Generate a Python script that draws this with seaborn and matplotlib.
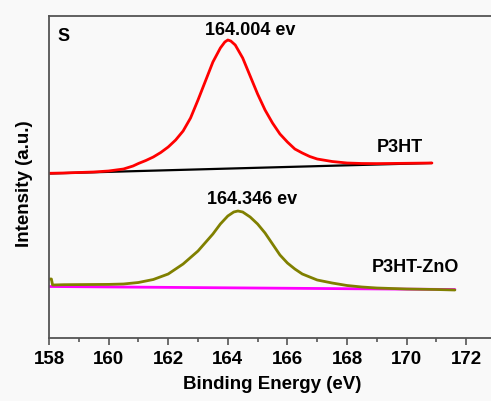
import matplotlib
matplotlib.use("Agg")
import matplotlib.pyplot as plt
import seaborn as sns
import pandas as pd
from matplotlib.ticker import MultipleLocator

# ---- data ----
p3ht_energy = [158.00, 158.50, 159.00, 159.50, 160.00, 160.50, 160.82, 161.00, 161.25,
               161.50, 161.75, 162.00, 162.25, 162.50, 162.75, 163.00, 163.25, 163.50,
               163.75, 163.90, 164.00, 164.10, 164.25, 164.50, 164.75, 165.00, 165.25,
               165.50, 165.75, 166.00, 166.25, 166.50, 166.75, 167.00, 167.50, 168.00,
               168.50, 169.00, 170.00, 170.85]
p3ht_intensity = [164.7, 165.0, 165.5, 166.0, 167.0, 169.0, 172.0, 174.5, 177.5,
                  181.0, 185.5, 191.0, 198.0, 207.0, 220.0, 238.0, 257.0, 276.0,
                  290.0, 296.0, 298.0, 297.0, 293.0, 280.0, 262.0, 244.0, 228.0,
                  215.0, 204.0, 196.0, 189.0, 185.0, 181.5, 179.0, 176.5, 175.0,
                  174.5, 174.4, 174.7, 175.0]
p3ht_bg_energy = [158.00, 170.85]
p3ht_bg_intensity = [164.5, 175.0]

zno_energy = [158.00, 158.08, 158.12, 158.50, 159.00, 159.50, 160.00, 160.50, 161.00,
              161.50, 162.00, 162.50, 163.00, 163.50, 163.75, 164.00, 164.20, 164.34,
              164.50, 164.75, 165.00, 165.25, 165.50, 165.75, 166.00, 166.25, 166.50,
              167.00, 167.50, 168.00, 168.50, 169.00, 170.00, 171.00, 171.62]
zno_intensity = [59.0, 59.0, 53.0, 53.3, 53.4, 53.5, 53.6, 54.0, 55.5,
                 58.5, 64.0, 74.0, 87.0, 104.0, 114.0, 122.0, 126.0, 127.0,
                 126.0, 121.0, 114.0, 105.0, 94.0, 83.0, 75.0, 69.0, 64.0,
                 58.0, 55.0, 52.5, 51.0, 50.0, 49.0, 48.5, 48.0]
zno_bg_energy = [158.00, 171.62]
zno_bg_intensity = [51.5, 48.5]

x_ticks = [158, 160, 162, 164, 166, 168, 170, 172]
peak_labels = ["164.004 ev", "164.346 ev"]
series_names = ["P3HT", "P3HT-ZnO"]

sns.set_theme(style="white")
plt.rcParams['font.family'] = ['Liberation Sans', 'DejaVu Sans']
plt.rcParams['font.weight'] = 'bold'
plt.rcParams['text.color'] = 'black'
plt.rcParams['axes.labelcolor'] = 'black'
plt.rcParams['xtick.color'] = 'black'

bgc = '#f9f9f9'
fig = plt.figure(figsize=(4.91, 4.01), dpi=100, facecolor=bgc)
ax = fig.add_axes([49/491, 63/401, 447/491, 322/401])
ax.set_facecolor(bgc)

def draw(xs, ys, color, lw):
    df = pd.DataFrame({"E": xs, "I": ys})
    sns.lineplot(data=df, x="E", y="I", ax=ax, color=color, linewidth=lw,
                 sort=False, estimator=None)

draw(p3ht_bg_energy, p3ht_bg_intensity, "black", 1.6)
draw(p3ht_energy, p3ht_intensity, "#ff0000", 2.0)
draw(zno_bg_energy, zno_bg_intensity, "#ff00ff", 2.0)
draw(zno_energy, zno_intensity, "#808000", 2.0)
for l in ax.get_lines():
    l.set_solid_joinstyle('round')

ax.set_xlim(158, 173)
ax.set_ylim(0, 322)
ax.set_xticks(x_ticks)
ax.xaxis.set_minor_locator(MultipleLocator(1))
ax.set_yticks([])
ax.tick_params(axis='x', which='major', direction='out', length=5, width=1.2,
               color='#555555', labelcolor='black', labelsize=13.5, pad=4, bottom=True)
ax.tick_params(axis='x', which='minor', direction='out', length=3, width=1.2,
               color='#555555', bottom=True)
for lab in ax.get_xticklabels():
    lab.set_fontweight('bold')
for s in ax.spines.values():
    s.set_color('#555555')
    s.set_linewidth(1.3)

ax.set_xlabel("Binding Energy (eV)", fontsize=13.5, fontweight='bold', labelpad=6, color='black')
ax.set_ylabel("Intensity (a.u.)", fontsize=13.5, fontweight='bold', color='black')
ax.yaxis.set_label_coords(-0.036, 0.48)

fs = 13
kw = dict(fontsize=fs, fontweight='bold', ha='center', va='center', color='black')
ax.text(158.5, 302, "S", **kw)
ax.text(164.75, 308, peak_labels[0], **kw)
ax.text(164.83, 139, peak_labels[1], **kw)
ax.text(169.78, 191, series_names[0], **kw)
ax.text(170.28, 70, series_names[1], **kw)

fig.savefig("out.png", dpi=100, facecolor=bgc)
